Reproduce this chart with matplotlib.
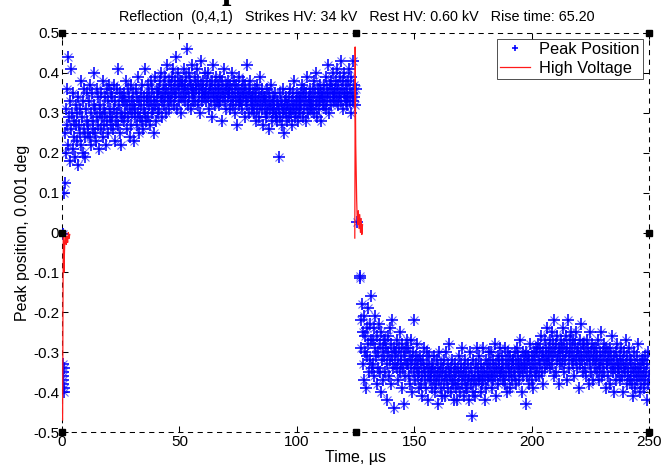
import numpy as np
import matplotlib
matplotlib.use("Agg")
import matplotlib.pyplot as plt

plt.rcParams['font.family'] = ['Liberation Sans', 'DejaVu Sans']

# ---------------- data ----------------
x_ticks = [0, 50, 100, 150, 200, 250]
y_ticks = [0.5, 0.4, 0.3, 0.2, 0.1, 0.0, -0.1, -0.2, -0.3, -0.4, -0.5]
y_tick_labels = ['0.5', '0.4', '0.3', '0.2', '0.1', '0', '-0.1', '-0.2', '-0.3', '-0.4', '-0.5']

# peak position before first strike / transition points
pre_t = [0.3, 0.4, 0.5, 0.6, 0.7, 0.8, 0.9, 0.5, 0.6, 1.0, 1.1, 125.6, 126.9, 127.0]
pre_v = [-0.33, -0.35, -0.38, -0.36, -0.40, -0.34, -0.39, -0.37, -0.005, 0.10, 0.125, 0.026, -0.11, -0.115]

# peak position after first strike (t = 1.25 ... 124.75 us, step 0.25)
upper_start, upper_step = 1.25, 0.25
upper_v = [
    .25,.31,.20,.36,.27,.44,.22,.29,.33,.18,.26,.41,.30,.21,.35,.24,.28,.19,.32,.27,
    .30,.23,.34,.17,.27,.31,.25,.38,.22,.29,.20,.33,.26,.36,.24,.19,.31,.28,.35,.25,
    .27,.33,.24,.37,.30,.22,.35,.28,.26,.32,.40,.25,.31,.23,.29,.36,.27,.34,.21,.30,
    .32,.26,.35,.29,.38,.24,.31,.27,.34,.30,.22,.36,.28,.33,.25,.37,.29,.31,.27,.35,
    .29,.34,.26,.37,.31,.23,.33,.28,.36,.30,.41,.27,.32,.25,.35,.30,.22,.34,.29,.33,
    .35,.28,.33,.30,.38,.26,.32,.36,.29,.34,.24,.31,.37,.27,.33,.30,.35,.23,.32,.29,
    .31,.36,.27,.34,.30,.39,.25,.33,.29,.35,.32,.28,.37,.26,.31,.34,.30,.41,.28,.33,
    .34,.29,.37,.32,.35,.27,.33,.38,.30,.36,.31,.25,.34,.39,.32,.28,.36,.33,.30,.35,
    .36,.31,.38,.34,.40,.33,.29,.35,.37,.32,.39,.34,.30,.36,.42,.33,.35,.31,.38,.34,
    .37,.33,.39,.35,.41,.32,.36,.38,.34,.44,.35,.31,.37,.40,.33,.36,.38,.34,.30,.37,
    .38,.34,.36,.41,.33,.37,.39,.35,.46,.32,.36,.40,.34,.38,.31,.37,.35,.42,.36,.33,
    .35,.39,.33,.37,.36,.41,.32,.38,.34,.36,.30,.37,.43,.35,.33,.38,.36,.34,.40,.35,
    .36,.33,.38,.34,.40,.31,.35,.37,.33,.36,.29,.38,.35,.42,.34,.32,.37,.35,.39,.33,
    .34,.37,.32,.36,.39,.33,.35,.28,.38,.34,.36,.41,.33,.35,.37,.31,.36,.34,.38,.35,
    .35,.31,.37,.33,.36,.40,.32,.34,.38,.30,.35,.33,.37,.27,.34,.36,.32,.39,.33,.35,
    .33,.36,.31,.38,.34,.35,.29,.37,.33,.35,.42,.32,.34,.36,.30,.35,.38,.33,.34,.31,
    .32,.35,.30,.36,.33,.34,.28,.37,.31,.33,.35,.29,.39,.32,.34,.31,.36,.33,.27,.34,
    .31,.34,.29,.33,.36,.30,.32,.26,.35,.31,.33,.37,.28,.32,.34,.30,.33,.31,.35,.29,
    .30,.33,.28,.32,.19,.31,.35,.29,.33,.27,.32,.30,.36,.31,.25,.33,.30,.34,.28,.32,
    .32,.29,.34,.31,.36,.30,.33,.27,.35,.31,.32,.38,.29,.33,.30,.35,.32,.28,.34,.31,
    .33,.30,.35,.32,.37,.29,.34,.31,.36,.33,.28,.35,.32,.39,.30,.34,.33,.31,.36,.32,
    .34,.31,.36,.33,.38,.30,.35,.32,.40,.33,.29,.36,.34,.31,.37,.33,.35,.28,.34,.32,
    .35,.32,.37,.34,.39,.31,.36,.33,.42,.35,.30,.37,.34,.38,.32,.36,.34,.40,.33,.35,
    .36,.33,.38,.35,.41,.32,.37,.34,.39,.35,.43,.33,.36,.31,.38,.35,.40,.34,.37,.33,
    .35,.32,.38,.34,.41,.33,.36,.30,.39,.35,.33,.43,.34,.37,.32,.36,
]

# peak position after second strike (t = 127.25 ... us, step 0.25)
lower_start, lower_step = 127.25, 0.25
lower_v = [
    -.22,-.29,-.18,-.33,-.25,-.37,-.21,-.30,-.26,-.39,-.24,-.31,-.19,-.28,-.35,-.23,-.32,-.27,-.16,-.34,
    -.27,-.33,-.24,-.36,-.29,-.21,-.31,-.38,-.26,-.34,-.30,-.23,-.35,-.28,-.40,-.25,-.32,-.29,-.37,-.27,
    -.31,-.27,-.35,-.29,-.42,-.33,-.26,-.30,-.36,-.24,-.32,-.28,-.38,-.31,-.22,-.34,-.29,-.44,-.30,-.33,
    -.30,-.34,-.27,-.32,-.37,-.29,-.35,-.25,-.33,-.31,-.39,-.28,-.34,-.30,-.43,-.32,-.36,-.29,-.33,-.27,
    -.33,-.29,-.36,-.31,-.38,-.27,-.34,-.32,-.40,-.30,-.35,-.22,-.33,-.37,-.31,-.34,-.28,-.36,-.32,-.39,
    -.35,-.31,-.38,-.33,-.36,-.41,-.32,-.34,-.29,-.37,-.35,-.39,-.33,-.30,-.36,-.42,-.34,-.31,-.37,-.35,
    -.36,-.33,-.39,-.34,-.37,-.31,-.40,-.35,-.38,-.32,-.36,-.43,-.34,-.37,-.30,-.35,-.39,-.33,-.36,-.41,
    -.34,-.38,-.32,-.36,-.41,-.35,-.30,-.37,-.33,-.39,-.35,-.28,-.36,-.40,-.34,-.37,-.32,-.38,-.35,-.42,
    -.37,-.33,-.39,-.35,-.42,-.34,-.38,-.31,-.36,-.40,-.35,-.33,-.38,-.29,-.36,-.41,-.34,-.37,-.32,-.39,
    -.35,-.39,-.33,-.37,-.42,-.36,-.30,-.38,-.34,-.46,-.36,-.40,-.32,-.37,-.35,-.41,-.33,-.38,-.29,-.36,
    -.34,-.37,-.31,-.36,-.40,-.33,-.38,-.35,-.29,-.37,-.34,-.42,-.36,-.32,-.39,-.35,-.33,-.37,-.30,-.36,
    -.33,-.36,-.30,-.35,-.39,-.32,-.37,-.34,-.28,-.36,-.33,-.41,-.35,-.31,-.38,-.34,-.32,-.36,-.29,-.35,
    -.34,-.31,-.37,-.33,-.36,-.29,-.38,-.32,-.35,-.40,-.33,-.30,-.36,-.34,-.39,-.31,-.35,-.33,-.37,-.32,
    -.32,-.35,-.30,-.36,-.33,-.38,-.29,-.34,-.31,-.37,-.33,-.27,-.35,-.32,-.40,-.34,-.30,-.36,-.33,-.31,
    -.34,-.30,-.43,-.33,-.36,-.31,-.38,-.32,-.35,-.28,-.34,-.37,-.31,-.33,-.39,-.30,-.35,-.32,-.36,-.29,
    -.30,-.34,-.28,-.32,-.36,-.29,-.33,-.26,-.31,-.35,-.30,-.38,-.32,-.27,-.34,-.31,-.29,-.33,-.24,-.31,
    -.29,-.32,-.27,-.34,-.30,-.25,-.33,-.28,-.31,-.36,-.22,-.30,-.35,-.28,-.32,-.26,-.31,-.38,-.29,-.33,
    -.30,-.27,-.33,-.29,-.24,-.31,-.35,-.28,-.32,-.26,-.30,-.37,-.29,-.22,-.31,-.34,-.27,-.30,-.25,-.32,
    -.29,-.33,-.27,-.31,-.36,-.28,-.32,-.25,-.30,-.34,-.29,-.39,-.31,-.27,-.33,-.30,-.23,-.32,-.28,-.35,
    -.31,-.28,-.34,-.30,-.36,-.27,-.32,-.29,-.38,-.31,-.25,-.33,-.30,-.35,-.28,-.32,-.37,-.29,-.31,-.34,
    -.32,-.29,-.35,-.31,-.27,-.33,-.37,-.30,-.34,-.25,-.32,-.36,-.30,-.33,-.28,-.35,-.31,-.39,-.29,-.33,
    -.33,-.30,-.36,-.32,-.38,-.29,-.34,-.31,-.26,-.35,-.33,-.40,-.31,-.34,-.30,-.37,-.32,-.28,-.35,-.33,
    -.34,-.31,-.37,-.33,-.29,-.36,-.32,-.40,-.34,-.30,-.35,-.27,-.33,-.38,-.31,-.36,-.34,-.29,-.37,-.32,
    -.35,-.32,-.38,-.34,-.41,-.30,-.36,-.33,-.39,-.35,-.31,-.37,-.34,-.28,-.36,-.40,-.33,-.35,-.38,-.32,
    -.36,-.32,-.39,-.34,-.31,-.37,-.35,-.42,-.33,-.38,-.30,-.36,
]

# high voltage traces (scaled)
hv1_t = [0.25, 0.3, 0.35, 0.4, 0.5, 0.6, 0.7, 0.8, 1.0, 1.2, 1.5, 1.8, 2.1, 2.4, 2.7, 3.0, 3.3]
hv1_v = [-0.47, -0.40, -0.30, -0.20, -0.08, -0.01, -0.04, -0.10, -0.06, -0.02, 0.0, -0.03, -0.01, -0.025, 0.0, -0.015, -0.005]
hv2_t = [124.7, 124.8, 124.85, 124.9, 125.0, 125.1, 125.3, 125.5, 125.7, 125.9, 126.2, 126.5, 126.8, 127.1, 127.4, 127.7, 128.0]
hv2_v = [-0.014, 0.20, 0.465, 0.44, 0.30, 0.22, 0.15, 0.08, 0.04, 0.02, 0.055, 0.01, 0.045, 0.0, 0.035, -0.005, 0.02]

# black square markers
sq_t = [0, 0, 0, 125, 125, 250, 250, 250]
sq_v = [0.5, 0.0, -0.5, 0.5, -0.5, 0.5, 0.0, -0.5]

subtitle = "Reflection  (0,4,1)   Strikes HV: 34 kV   Rest HV: 0.60 kV   Rise time: 65.20"

# ---------------- figure ----------------
fig = plt.figure(figsize=(6.61, 4.70), dpi=100)
ax = fig.add_axes([62/661, 38/470, 587/661, 399/470])

upper_t = upper_start + upper_step * np.arange(len(upper_v))
lower_t = lower_start + lower_step * np.arange(len(lower_v))
all_t = np.concatenate([pre_t, upper_t, lower_t])
all_v = np.concatenate([pre_v, upper_v, lower_v])

blue = (0, 0, 1)
# MATLAB-like '*' : bright plus with soft diagonal arms
ax.plot(all_t, all_v, linestyle='none', marker='x', markersize=5.5,
        markeredgewidth=0.8, color=(0.4, 0.4, 1.0), zorder=2)
pk, = ax.plot(all_t, all_v, linestyle='none', marker='+', markersize=8,
              markeredgewidth=1.15, color=blue, label='Peak Position', zorder=3)
hv, = ax.plot(hv1_t, hv1_v, color=(1, 0.1, 0.1), linewidth=0.9, label='High Voltage', zorder=4)
ax.plot(hv2_t, hv2_v, color=(1, 0.1, 0.1), linewidth=0.9, zorder=4)
ax.plot(sq_t, sq_v, linestyle='none', marker='s', markersize=4.3, color='black',
        clip_on=False, zorder=5)

ax.set_xlim(0, 250)
ax.set_ylim(-0.5, 0.5)
ax.set_xticks(x_ticks)
ax.set_xticklabels([str(v) for v in x_ticks])
ax.set_yticks(y_ticks)
ax.set_yticklabels(y_tick_labels)
ax.tick_params(direction='in', top=True, right=True, length=4, width=0.75,
               labelsize=11, pad=2, colors='black')

for s in ax.spines.values():
    s.set_linestyle((0, (4, 5.3)))
    s.set_linewidth(0.75)
    s.set_color('black')

ax.set_xlabel('Time, \u00b5s', fontsize=11.5, labelpad=1)
ax.set_ylabel('Peak position, 0.001 deg', fontsize=11.5, labelpad=2)

leg = ax.legend(handles=[pk, hv], loc='upper right', fontsize=11.8, frameon=True,
                fancybox=False, borderpad=0.2, labelspacing=0.22, handlelength=1.8,
                handletextpad=0.6, borderaxespad=0.35, markerscale=0.6)
leg.get_frame().set_edgecolor('black')
leg.get_frame().set_linewidth(0.6)

fig.text(357/661, 1 - 17/470, subtitle, ha='center', va='center', fontsize=10.4)
fig.text(231/661, 1 + 1/470, 'p', ha='center', va='baseline', fontsize=24,
         fontweight='bold', family=['Liberation Serif', 'DejaVu Serif'])

fig.savefig('out.png', dpi=100)
